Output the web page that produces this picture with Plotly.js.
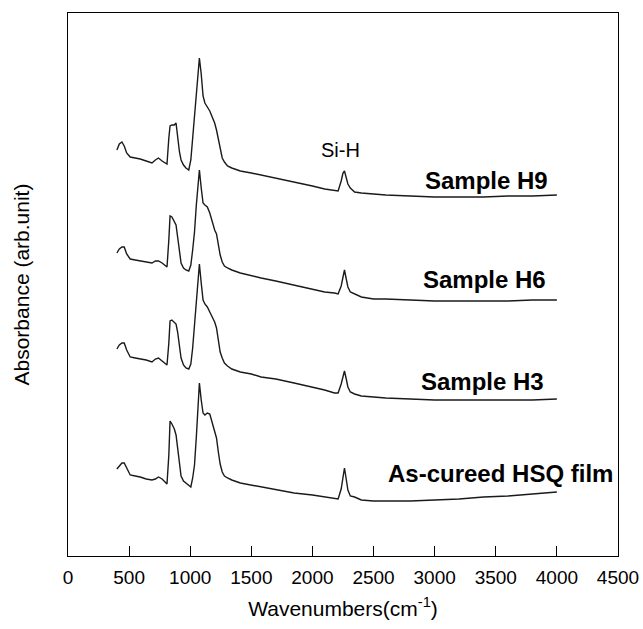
<!DOCTYPE html>
<html>
<head>
<meta charset="utf-8">
<script src="https://cdn.plot.ly/plotly-3.0.1.min.js"></script>
<style>html,body{margin:0;padding:0;background:#fff;}#chart{width:643px;height:629px;}</style>
</head>
<body>
<div id="chart"></div>
<script>
const wavenumbers = [400,420,441,460,480,509,550,591,640,687,715,740,770,810,825,835,850,870,884,897,912,925,945,965,988,1005,1020,1035,1050,1062,1075,1090,1105,1120,1140,1160,1180,1200,1215,1230,1245,1262,1280,1305,1340,1410,1500,1580,1700,1850,2000,2100,2180,2210,2235,2250,2262,2275,2290,2310,2345,2400,2500,2600,2800,3000,3200,3400,3600,3800,4000];

const sampleH9 = [4.06,4.12,4.14,4.10,4.03,3.99,3.98,3.97,3.95,3.93,3.96,3.98,3.95,3.92,4.18,4.30,4.31,4.31,4.33,4.16,4.04,3.96,3.91,3.88,3.86,3.96,4.18,4.41,4.68,4.86,4.98,4.82,4.60,4.53,4.49,4.45,4.39,4.33,4.26,4.16,4.06,3.98,3.94,3.90,3.88,3.85,3.83,3.81,3.78,3.74,3.70,3.67,3.66,3.65,3.75,3.83,3.85,3.79,3.72,3.68,3.64,3.63,3.62,3.61,3.60,3.59,3.59,3.59,3.60,3.60,3.61];

const sampleH6 = [3.03,3.07,3.09,3.09,3.02,2.97,2.96,2.95,2.94,2.93,2.95,2.95,2.93,2.89,3.16,3.40,3.39,3.34,3.31,3.19,3.03,2.93,2.88,2.86,2.85,2.91,3.06,3.24,3.51,3.71,3.86,3.68,3.53,3.51,3.49,3.43,3.34,3.26,3.22,3.12,3.01,2.94,2.90,2.88,2.86,2.83,2.80,2.78,2.75,2.71,2.67,2.64,2.63,2.62,2.70,2.79,2.86,2.78,2.69,2.64,2.62,2.59,2.57,2.57,2.56,2.55,2.55,2.55,2.55,2.56,2.56];

const sampleH3 = [2.07,2.11,2.13,2.13,2.06,1.99,1.98,1.97,1.96,1.94,1.97,1.98,1.95,1.91,2.13,2.35,2.36,2.34,2.32,2.24,2.09,1.98,1.91,1.88,1.87,1.92,2.08,2.31,2.58,2.78,2.92,2.73,2.56,2.52,2.49,2.44,2.39,2.34,2.28,2.14,2.04,1.98,1.93,1.90,1.87,1.84,1.82,1.79,1.77,1.73,1.69,1.66,1.63,1.63,1.72,1.81,1.85,1.78,1.69,1.64,1.62,1.60,1.59,1.58,1.57,1.56,1.56,1.56,1.56,1.56,1.57];

const asCured = [0.87,0.90,0.93,0.93,0.88,0.81,0.80,0.79,0.77,0.76,0.77,0.79,0.77,0.72,1.01,1.35,1.32,1.27,1.21,1.08,0.91,0.80,0.75,0.73,0.71,0.69,0.78,0.91,1.19,1.51,1.73,1.56,1.43,1.41,1.43,1.42,1.34,1.25,1.18,1.04,0.92,0.84,0.80,0.78,0.76,0.73,0.71,0.69,0.66,0.63,0.61,0.59,0.57,0.57,0.67,0.82,0.88,0.78,0.66,0.60,0.59,0.56,0.55,0.55,0.55,0.56,0.57,0.59,0.60,0.62,0.64];

const seriesNames = ["Sample H9","Sample H6","Sample H3","As-cureed HSQ film"];
const seriesValues = [sampleH9, sampleH6, sampleH3, asCured];
const xTickValues = [0,500,1000,1500,2000,2500,3000,3500,4000,4500];

const FONT = '"Liberation Sans", Arial, Helvetica, sans-serif';

const traces = seriesValues.map((vals, i) => ({
  type: 'scatter', mode: 'lines', name: seriesNames[i],
  x: wavenumbers, y: vals,
  line: {color: '#1a1a1a', width: 1.4, shape: 'linear'},
  hoverinfo: 'x+y+name'
}));

const labelPos = [[3420,3.76],[3404,2.77],[3388,1.75],[3535,0.83]];
const annotations = seriesNames.map((n, i) => ({
  x: labelPos[i][0], y: labelPos[i][1], xref: 'x', yref: 'y',
  text: '<b>' + n + '</b>', showarrow: false,
  xanchor: 'center', yanchor: 'middle',
  font: {family: FONT, size: 24, color: '#000'}
}));
annotations.push({
  x: 2226, y: 4.06, xref: 'x', yref: 'y', text: 'Si-H', showarrow: false,
  xanchor: 'center', yanchor: 'middle', font: {family: FONT, size: 20, color: '#000'}
});
annotations.push({
  x: 0, y: 0.5, xref: 'paper', yref: 'paper', xshift: -47,
  text: 'Absorbance (arb.unit)', textangle: -90, showarrow: false,
  xanchor: 'center', yanchor: 'middle', font: {family: FONT, size: 21, color: '#000'}
});

const layout = {
  width: 643, height: 629,
  margin: {l: 68, r: 25, t: 13, b: 73},
  paper_bgcolor: '#fff', plot_bgcolor: '#fff',
  showlegend: false,
  font: {family: FONT, color: '#000'},
  xaxis: {
    range: [0, 4500], tickvals: xTickValues, ticktext: xTickValues.map(String),
    ticks: 'inside', ticklen: 10, tickwidth: 1, tickcolor: '#000',
    ticklabelstandoff: 4,
    showline: true, linecolor: '#000', linewidth: 1, mirror: true,
    showgrid: false, zeroline: false,
    tickfont: {family: FONT, size: 19, color: '#000'},
    title: {text: 'Wavenumbers(cm<sup>-1</sup>)', font: {family: FONT, size: 21, color: '#000'}, standoff: 14}
  },
  yaxis: {
    range: [0, 5.43], showticklabels: false, ticks: '',
    showline: true, linecolor: '#000', linewidth: 1, mirror: true,
    showgrid: false, zeroline: false
  },
  annotations: annotations
};

Plotly.newPlot('chart', traces, layout, {displayModeBar: false, staticPlot: true});
</script>
</body>
</html>
